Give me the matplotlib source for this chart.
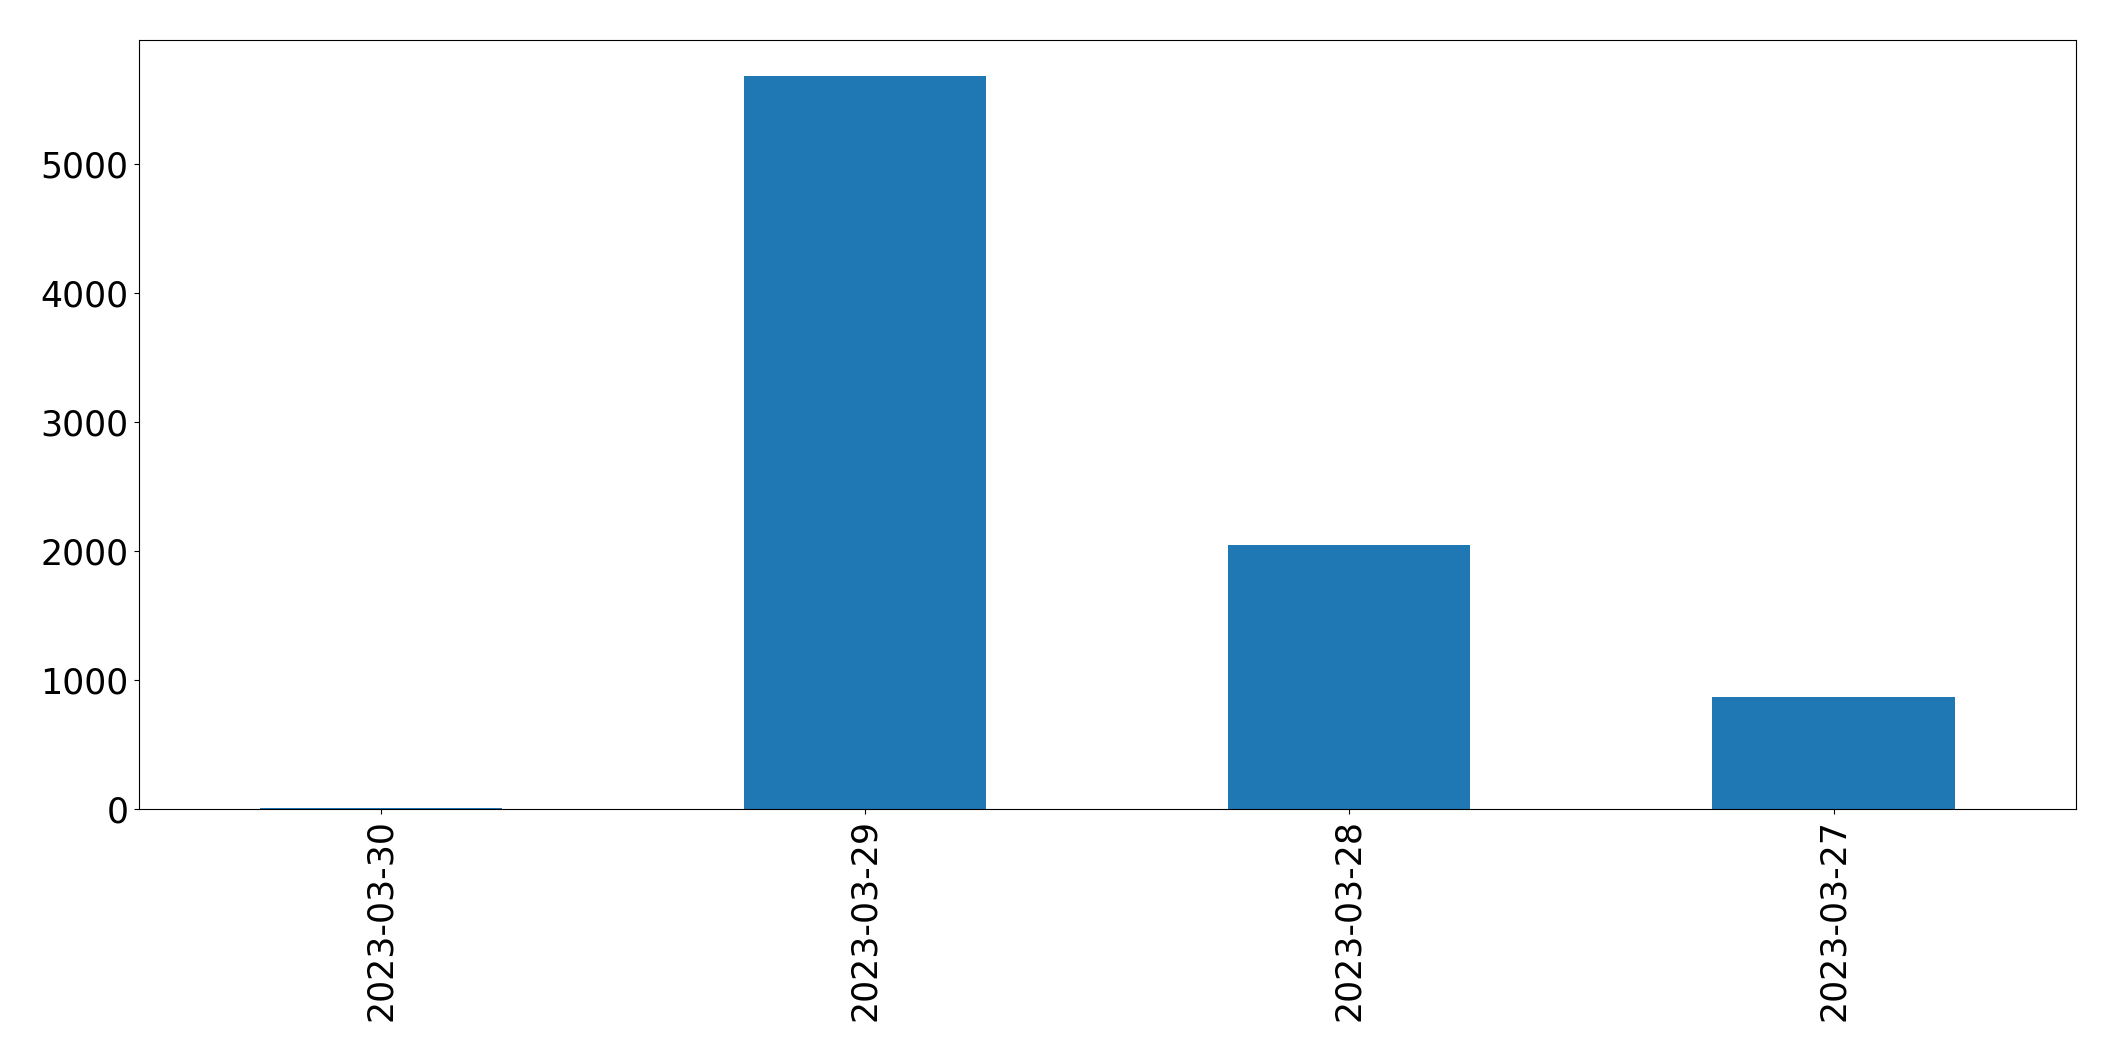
import matplotlib
matplotlib.use("Agg")
import matplotlib.pyplot as plt

dates = ["2023-03-30", "2023-03-29", "2023-03-28", "2023-03-27"]
counts = [12, 5682, 2048, 868]

fig = plt.figure(figsize=(21.15, 10.61), dpi=100)
ax = fig.add_axes([138.5/2115, 1 - 809.3/1061, (2075.7-138.5)/2115, (809.3-39.5)/1061])
x = list(range(len(dates)))
ax.bar(x, counts, width=0.5, color="#1f77b4")
ax.set_xlim(-0.5, len(dates) - 0.5)
ax.set_xticks(x)
ax.set_xticklabels(dates, rotation=90)
ax.tick_params(labelsize=25)
ax.set_yticks([0, 1000, 2000, 3000, 4000, 5000])
fig.savefig("out.png", dpi=100)
